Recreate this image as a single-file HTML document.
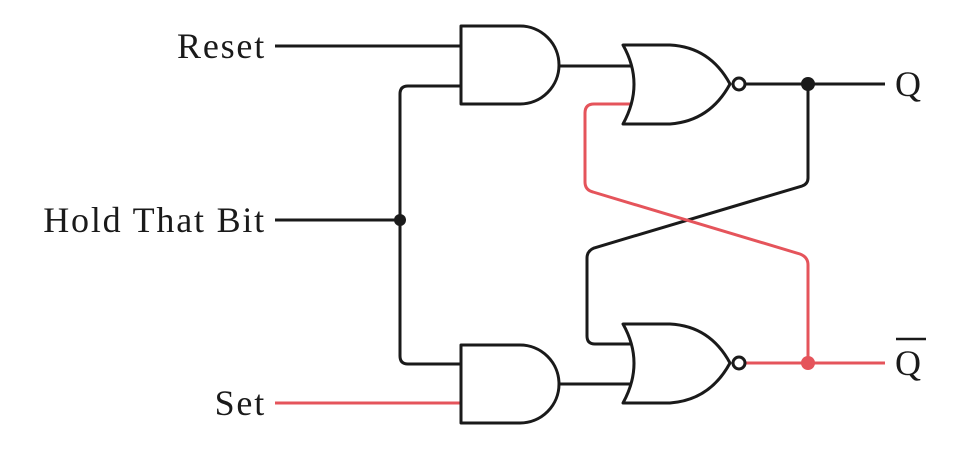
<!DOCTYPE html>
<html><head><style>
html,body{margin:0;padding:0;background:#fff;}
svg{display:block}
text{font-family:"Liberation Serif",serif;font-size:36px;letter-spacing:1.8px;fill:#1a1a1a}
</style></head><body>
<svg width="970" height="462" viewBox="0 0 970 462">
<g fill="none" stroke-width="3" stroke-linejoin="round">
<path d="M275 46H461M275 220H400M461 86H408Q400 86 400 94V356Q400 364 408 364H461" stroke="#1a1a1a"/>
<path d="M558 66H632M558 384H632M745 84H885" stroke="#1a1a1a"/>
<path d="M808 84V178Q808 184 802 186L594 248Q587 251 587 258V336Q587 344 595 344H632" stroke="#1a1a1a"/>
<path d="M275 403H461" stroke="#e5545b"/>
<path d="M632 104H594Q585 104 585 113V182Q585 190 593 192L800 254Q808 257 808 265V363M745 363H885" stroke="#e5545b"/>
<path d="M461 26H520A39 39 0 0 1 520 104H461Z" fill="#fff" stroke="#1a1a1a"/>
<path d="M461 345H520A39 39 0 0 1 520 423H461Z" fill="#fff" stroke="#1a1a1a"/>
<path d="M623 45H670Q710 47 730 84Q710 121 670 124H623Q645 84 623 45Z" fill="#fff" stroke="#1a1a1a"/>
<circle cx="739" cy="84" r="6" fill="#fff" stroke="#1a1a1a"/>
<path d="M623 324H670Q710 326 730 363Q710 400 670 403H623Q645 363 623 324Z" fill="#fff" stroke="#1a1a1a"/>
<circle cx="739" cy="363" r="6" fill="#fff" stroke="#1a1a1a"/>
<path d="M896 339H926" stroke="#1a1a1a" stroke-width="2.5"/>
</g>
<circle cx="400" cy="220" r="6" fill="#1a1a1a"/>
<circle cx="808" cy="84" r="7" fill="#1a1a1a"/>
<circle cx="808" cy="363" r="7" fill="#e5545b"/>
<text x="266" y="58" text-anchor="end">Reset</text>
<text x="266" y="232" text-anchor="end">Hold That Bit</text>
<text x="266" y="415" text-anchor="end">Set</text>
<text x="895" y="96">Q</text>
<text x="895" y="375">Q</text>
</svg>
</body></html>
